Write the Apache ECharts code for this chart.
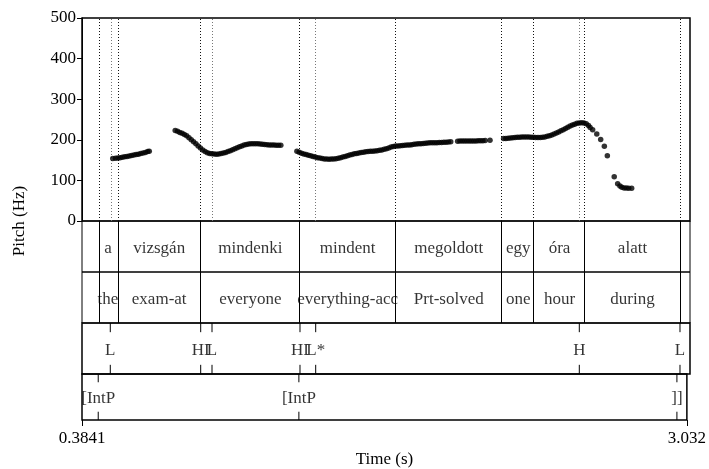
<!DOCTYPE html>
<html>
<head>
<meta charset="utf-8">
<script src="https://cdn.jsdelivr.net/npm/echarts@6/dist/echarts.min.js"></script>
<style>
html, body { margin: 0; padding: 0; background: #fff; }
#chart { width: 709px; height: 469px; }
</style>
</head>
<body>
<div id="chart"></div>
<script>
var tMin = 0.3841;
var tMax = 3.032;

// pitch track, [time (s), Hz]
var pitch = [
	[0.518,154],[0.53,154.5],[0.54,155],[0.55,156],[0.56,157],[0.57,158],[0.58,159],[0.59,160],[0.60,161.5],
	[0.61,162.5],[0.62,163.5],[0.63,164.5],[0.64,166],[0.65,167.5],[0.66,169],[0.67,171],[0.677,172],

	[0.79,223],[0.80,221],[0.81,218],[0.82,216],[0.83,213],[0.84,210],[0.85,205],[0.86,200],[0.87,195],
	[0.88,190],[0.89,185],[0.90,180],[0.91,175],[0.92,171],[0.93,168],[0.94,166.5],[0.95,165.5],[0.96,165],
	[0.97,164.5],[0.98,165],[0.99,166],[1.00,167.5],[1.01,169],[1.02,171],[1.03,173],[1.04,175.5],[1.05,178],
	[1.06,180.5],[1.07,183],[1.08,185],[1.09,187],[1.10,188.5],[1.11,189.5],[1.12,190],[1.13,190.5],[1.14,190.5],
	[1.15,190],[1.16,189.5],[1.17,189],[1.18,188.5],[1.19,188],[1.20,187.5],[1.21,187],[1.22,187],[1.23,186.5],
	[1.24,186.5],[1.25,186.5],

	[1.32,172],[1.33,169.5],[1.34,167],[1.35,165],[1.36,163.5],[1.37,162],[1.38,160.5],[1.39,159],[1.40,157.5],
	[1.41,156],[1.42,155],[1.43,154],[1.44,153],[1.45,152.5],[1.46,152.3],[1.47,152.5],[1.48,153],[1.49,153.5],
	[1.50,154.5],[1.51,156],[1.52,157.5],[1.53,159],[1.54,160.5],[1.55,162.5],[1.56,164],[1.57,165.5],[1.58,166.5],
	[1.59,167.5],[1.60,168.5],[1.61,169.5],[1.62,170.5],[1.63,171],[1.64,171.5],[1.65,172],[1.66,172.5],[1.67,173],
	[1.68,174],[1.69,175],[1.70,176.5],[1.71,178],[1.72,180],[1.73,182],[1.74,183.5],[1.75,184.5],[1.76,185],
	[1.77,185.5],[1.78,186],[1.79,186.5],[1.80,187],[1.81,187.5],[1.82,188],[1.83,189],[1.84,189.5],[1.85,190],
	[1.86,190.5],[1.87,191],[1.88,191.5],[1.89,192],[1.90,192.5],[1.91,193],[1.92,193],[1.93,193],[1.94,193.5],
	[1.95,193.5],[1.96,194],[1.97,194],[1.98,194.5],[1.99,195],

	[2.02,196.5],[2.03,197],[2.04,197],[2.05,197],[2.06,197],[2.07,197],[2.08,197],[2.09,197],[2.10,197],
	[2.11,197.5],[2.12,197.5],[2.13,197.5],[2.14,198],
	[2.161,199],

	[2.22,203],[2.23,203.5],[2.24,204],[2.25,204.5],[2.26,205],[2.27,205.5],[2.28,206],[2.29,206.5],[2.30,207],
	[2.31,207],[2.32,207],[2.33,207],[2.34,206.5],[2.35,206],[2.36,205.5],[2.37,205.5],[2.38,205.5],[2.39,206],
	[2.40,207],[2.41,208.5],[2.42,210],[2.43,212],[2.44,214],[2.45,216.5],[2.46,219],[2.47,222],[2.48,225],
	[2.49,228],[2.50,231],[2.51,234],[2.52,236.5],[2.53,238.5],[2.54,240.5],[2.55,241.5],[2.56,242],[2.57,241.5],
	[2.58,239.5],[2.59,235],[2.597,230],
	[2.608,225],[2.626,214],[2.643,201],[2.659,184],[2.672,161],
	[2.702,109],[2.717,92],[2.727,86],[2.735,83],[2.745,81.5],[2.755,81],[2.765,80.8],[2.778,80.8]
];

// interval tiers
var wordBounds = [0.4551, 0.5396, 0.9010, 1.3335, 1.7485, 2.2146, 2.3526, 2.5747, 2.9884];
var words = ['', 'a', 'vizsgán', 'mindenki', 'mindent', 'megoldott', 'egy', 'óra', 'alatt', ''];
var glosses = ['', 'the', 'exam-at', 'everyone', 'everything-acc', 'Prt-solved', 'one', 'hour', 'during', ''];

// point tiers
var toneTimes = [0.5073, 0.9010, 0.9503, 1.3335, 1.4019, 2.5499, 2.9884];
var tones = ['L', 'HI', 'L', 'HI', 'L*', 'H', 'L'];
var phraseTimes = [0.4551, 1.3335, 2.9884];
var phrases = ['[IntP', '[IntP', ']]'];

var yTicks = [0, 100, 200, 300, 400, 500];

var font = 'Liberation Serif';

function intervalLabels(names) {
	var edges = [tMin].concat(wordBounds, [tMax]);
	return names.map(function (n, i) {
		return { name: n, value: [(edges[i] + edges[i + 1]) / 2, 0.5] };
	});
}

function pointLabels(times, names) {
	return times.map(function (t, i) {
		return { name: names[i], value: [t, 0.5] };
	});
}

function tickItem(params, api) {
	var t = api.value(0);
	var a = api.coord([t, 1]);
	var b = api.coord([t, 0.82]);
	var c = api.coord([t, 0.18]);
	var d = api.coord([t, 0]);
	var st = { stroke: '#000', lineWidth: 1 };
	return {
		type: 'group',
		children: [
			{ type: 'line', shape: { x1: a[0], y1: a[1], x2: b[0], y2: b[1] }, style: st },
			{ type: 'line', shape: { x1: c[0], y1: c[1], x2: d[0], y2: d[1] }, style: st }
		]
	};
}

var labelStyle = {
	show: true,
	position: 'inside',
	offset: [0, 2],
	formatter: '{b}',
	color: '#000',
	fontFamily: font,
	fontSize: 17
};

var tops = [18, 221, 272, 323, 374];
var heights = [203, 51, 51, 51, 51];

var grids = tops.map(function (t, i) {
	return {
		left: 82, width: 608, top: t, height: heights[i],
		show: true, borderColor: '#000', borderWidth: (i == 0 || i >= 3) ? 1.5 : 1,
		backgroundColor: 'transparent'
	};
});

var xAxes = tops.map(function (t, i) {
	var ax = {
		type: 'value', gridIndex: i, min: tMin, max: tMax,
		axisLine: { show: false }, axisTick: { show: false },
		axisLabel: { show: false }, splitLine: { show: false }
	};
	if (i == 4) {
		ax.axisTick = { show: true, length: 6, lineStyle: { color: '#000' }, customValues: [tMin, tMax] };
		ax.axisLabel = {
			show: true, customValues: [tMin, tMax], margin: 10,
			color: '#000', fontFamily: font, fontSize: 17,
			formatter: function (v) { return Math.abs(v - tMin) < 1e-6 ? '0.3841' : '3.032'; }
		};
		ax.name = 'Time (s)';
		ax.nameLocation = 'middle';
		ax.nameGap = 31;
		ax.nameTextStyle = { color: '#000', fontFamily: font, fontSize: 17 };
	}
	return ax;
});

var yAxes = tops.map(function (t, i) {
	if (i == 0) {
		return {
			type: 'value', gridIndex: 0, min: 0, max: 500, interval: 100,
			axisLine: { show: true, lineStyle: { color: '#000' } },
			axisTick: { show: true, length: 5, lineStyle: { color: '#000' } },
			axisLabel: { color: '#000', fontFamily: font, fontSize: 17, margin: 6,
				customValues: yTicks },
			splitLine: { show: false }
		};
	}
	return {
		type: 'value', gridIndex: i, min: 0, max: 1, show: false
	};
});

var darkDots = wordBounds.map(function (t) {
	return { xAxis: t, lineStyle: { color: '#111', type: [1, 2], width: 1 } };
});
var lightDots = [0.5073, 0.9503, 1.4019, 2.5499].map(function (t) {
	return { xAxis: t, lineStyle: { color: '#777', type: [1, 2], width: 1 } };
});

var myChart = echarts.init(document.getElementById('chart'));
var option = {
	animation: false,
	backgroundColor: '#fff',
	grid: grids,
	xAxis: xAxes,
	yAxis: yAxes,
	graphic: [
		{
			type: 'text', x: 20, y: 221, rotation: Math.PI / 2,
			style: {
				text: 'Pitch (Hz)', fill: '#000', font: '17px "Liberation Serif"',
				textAlign: 'center', textVerticalAlign: 'middle'
			}
		}
	],
	series: [
		{
			type: 'scatter', xAxisIndex: 0, yAxisIndex: 0,
			data: pitch, symbolSize: 5.5,
			itemStyle: { color: '#000' },
			z: 5,
			markLine: {
				silent: true, symbol: 'none', label: { show: false },
				data: darkDots.concat(lightDots)
			}
		},
		{
			type: 'scatter', xAxisIndex: 1, yAxisIndex: 1,
			data: intervalLabels(words), symbolSize: 0, label: labelStyle,
			markLine: {
				silent: true, symbol: 'none', label: { show: false },
				lineStyle: { color: '#000', type: 'solid', width: 1 },
				data: wordBounds.map(function (t) { return { xAxis: t }; })
			}
		},
		{
			type: 'scatter', xAxisIndex: 2, yAxisIndex: 2,
			data: intervalLabels(glosses), symbolSize: 0, label: labelStyle,
			markLine: {
				silent: true, symbol: 'none', label: { show: false },
				lineStyle: { color: '#000', type: 'solid', width: 1 },
				data: wordBounds.map(function (t) { return { xAxis: t }; })
			}
		},
		{
			type: 'scatter', xAxisIndex: 3, yAxisIndex: 3,
			data: pointLabels(toneTimes, tones), symbolSize: 0, label: labelStyle
		},
		{
			type: 'custom', xAxisIndex: 3, yAxisIndex: 3,
			data: toneTimes.map(function (t) { return [t, 0]; }),
			renderItem: tickItem
		},
		{
			type: 'scatter', xAxisIndex: 4, yAxisIndex: 4,
			data: pointLabels(phraseTimes, phrases), symbolSize: 0, label: labelStyle
		},
		{
			type: 'custom', xAxisIndex: 4, yAxisIndex: 4,
			data: phraseTimes.map(function (t) { return [t, 0]; }),
			renderItem: tickItem
		}
	]
};
myChart.setOption(option);
</script>
</body>
</html>
